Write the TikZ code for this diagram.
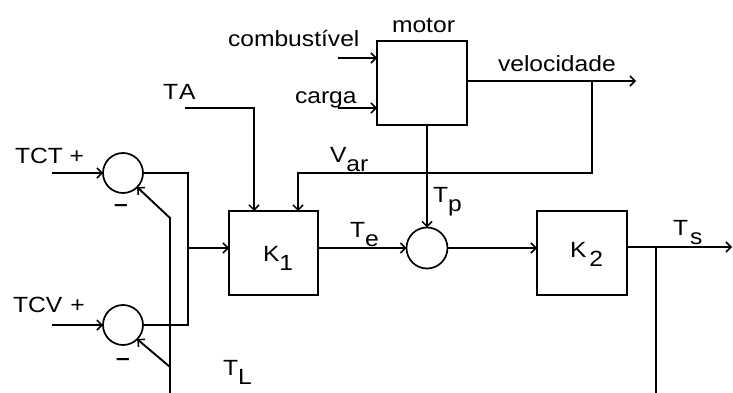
\documentclass[tikz,border=0pt]{standalone}
\usepackage{fontspec}
\setmainfont{Liberation Sans}[FakeStretch=1.12]
\usetikzlibrary{arrows.meta}
\newcommand{\lowr}[1]{\raisebox{-0.42em}{#1}}
\begin{document}
\begin{tikzpicture}[x=1pt,y=-1pt,
  every node/.style={font=\fontsize{22}{25}\selectfont, inner sep=0pt, outer sep=0pt},
  blk/.style={draw, line width=2pt, minimum width=89pt, minimum height=84pt},
  sumc/.style={draw, circle, line width=1.7pt, minimum size=40pt},
  lbl/.style={anchor=base west},
  wire/.style={line width=1.9pt},
  arr/.style={wire, -{Straight Barb[length=5pt,width=10pt,line width=1.5pt]}}]
\useasboundingbox (0,0) rectangle (733,393);
% blocks
\node[blk, minimum width=90pt] (motor) at (422,83) {};
\node[blk] (K1) at (273.5,253) {};
\node[blk, minimum width=90pt] (K2) at (582,253) {};
\node[sumc] (c1) at (123,173) {};
\node[sumc] (c2) at (123,325) {};
\node[sumc, minimum size=41pt] (c3) at (427,248) {};
% labels
\node[lbl] (lcomb) at (228,47) {combustível};
\node[lbl] (lcarga) at (295,103) {carga};
\node[lbl] (lmotor) at (392,33) {motor};
\node[lbl] (lvel) at (498,72) {velocidade};
\node[lbl] (lta) at (163,100) {T\hspace{1pt}A};
\node[lbl] (ltct) at (15,163) {TCT +};
\node[lbl] (ltcv) at (13,312) {TCV\hspace{8pt}+};
\node[lbl] (lvar) at (330,162) {V\lowr{ar}};
\node[lbl] (ltp) at (433,202) {T\lowr{p}};
\node[lbl] (lte) at (350,237) {T\lowr{e}};
\node[lbl] (lts) at (673,235) {T\hspace{2pt}\lowr{s}};
\node[lbl] (ltl) at (223,375) {T\lowr{L}};
\node[lbl] (lk1) at (263,261) {K\lowr{1}};
\node[lbl] (lk2) at (570,257) {K\hspace{3pt}\lowr{2}};
\node (m1) at (121,208) {\textbf{–}};
\node (m2) at (123,362) {\textbf{–}};
% coordinates
\coordinate (combIn) at (338,58);
\coordinate (cargaIn) at (338,108);
\coordinate (velOut) at (636,81);
\coordinate (tapV) at (592,81);
\coordinate (varC) at (592,173);
\coordinate (varL) at (298,173);
\coordinate (taS) at (185,108);
\coordinate (taC) at (254,108);
\coordinate (tctIn) at (52,173);
\coordinate (tcvIn) at (52,325);
\coordinate (j1) at (188,173);
\coordinate (j2) at (188,325);
\coordinate (jk) at (188,248);
\coordinate (tlB) at (170,393);
\coordinate (tlT) at (170,218);
\coordinate (tlM) at (170,367);
\coordinate (tsOut) at (732,247);
\coordinate (tsTap) at (656,247);
\coordinate (tsB) at (656,393);
% connectors
\draw[arr] (combIn) -- (motor.west |- combIn);
\draw[arr] (cargaIn) -- (motor.west |- cargaIn);
\draw[arr] (motor.east |- velOut) -- (velOut);
\draw[arr] (tapV) -- (varC) -- (varL) -- (varL |- K1.north);
\draw[arr] (taS) -- (taC) -- (taC |- K1.north);
\draw[arr] (c3 |- motor.south) -- (c3.north);
\draw[arr] (K1.east |- c3) -- (c3.west);
\draw[arr] (c3.east) -- (K2.west |- c3);
\draw[arr] (K2.east |- tsOut) -- (tsOut);
\draw[wire] (tsTap) -- (tsB);
\draw[arr] (tctIn) -- (c1.west);
\draw[arr] (tcvIn) -- (c2.west);
\draw[wire] (c1.east) -- (j1) -- (j2) -- (c2.east);
\draw[arr] (jk) -- (K1.west |- jk);
\draw[arr] (tlB) -- (tlT) -- (c1.-45);
\draw[arr] (tlM) -- (c2.-45);
\end{tikzpicture}
\end{document}
